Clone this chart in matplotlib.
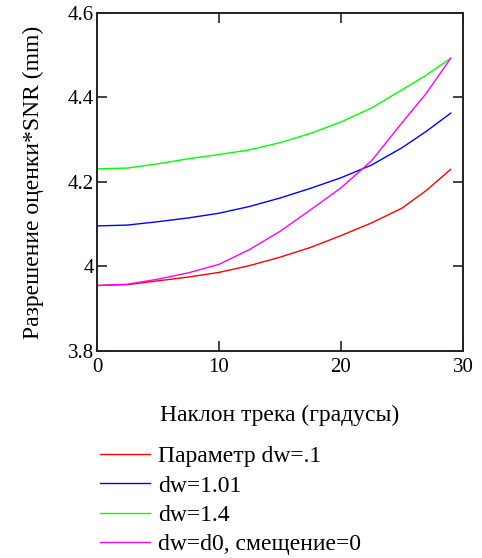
import matplotlib
matplotlib.use("Agg")
from matplotlib import pyplot as plt

# наклон трека, градусы
angle = [0, 2.5, 5, 7.5, 10, 12.5, 15, 17.5, 20, 22.5, 25, 27, 29]

# значения
res_dw01 = [3.955, 3.957, 3.966, 3.975, 3.986, 4.002, 4.022, 4.045, 4.073, 4.103, 4.138, 4.180, 4.230]
res_dw101 = [4.096, 4.098, 4.106, 4.115, 4.126, 4.142, 4.162, 4.185, 4.210, 4.240, 4.281, 4.320, 4.363]
res_dw14 = [4.231, 4.233, 4.243, 4.255, 4.265, 4.276, 4.293, 4.315, 4.342, 4.375, 4.418, 4.453, 4.493]
res_d0 = [3.955, 3.958, 3.970, 3.985, 4.005, 4.040, 4.083, 4.134, 4.186, 4.250, 4.340, 4.410, 4.493]

labels = ["Параметр dw=.1", "dw=1.01", "dw=1.4", "dw=d0, смещение=0"]
colors = ["#ff0000", "#0000ff", "#00ff00", "#ff00ff"]

x_ticks = [0, 10, 20, 30]
y_ticks = [3.8, 4.0, 4.2, 4.4, 4.6]
y_tick_labels = ["3.8", "4", "4.2", "4.4", "4.6"]

plt.rcParams['font.family'] = ['Liberation Serif', 'DejaVu Serif']

fig = plt.figure(figsize=(4.82, 5.58), dpi=100)
ax = fig.add_axes([0.2012, 0.371, 0.7593, 0.6057])

lines = []
for data, c in zip([res_dw01, res_dw101, res_dw14, res_d0], colors):
    ln, = ax.plot(angle, data, color=c, linewidth=1.0)
    lines.append(ln)

ax.set_xlim(0, 30)
ax.set_ylim(3.8, 4.6)
ax.set_xticks(x_ticks)
ax.set_yticks(y_ticks)
ax.set_yticklabels(y_tick_labels)
ax.tick_params(direction='in', length=7, width=1.2, top=True, right=True,
               labelsize=15, color='#222222')
ax.tick_params(axis='y', pad=2)
ax.tick_params(axis='x', pad=5)
for s in ax.spines.values():
    s.set_linewidth(1.4)
    s.set_color('#222222')

ax.set_xlabel("Наклон трека (градусы)", fontsize=17, labelpad=20)
ax.set_ylabel("Разрешение оценки*SNR (mm)", fontsize=17, labelpad=17)

fig.legend(lines, labels, loc='upper left', bbox_to_anchor=(0.208, 0.201),
           frameon=False, fontsize=17, handlelength=2.1, handletextpad=0.36,
           labelspacing=0.33, borderaxespad=0, borderpad=0)

fig.savefig("out.png", dpi=100)
plt.close()
